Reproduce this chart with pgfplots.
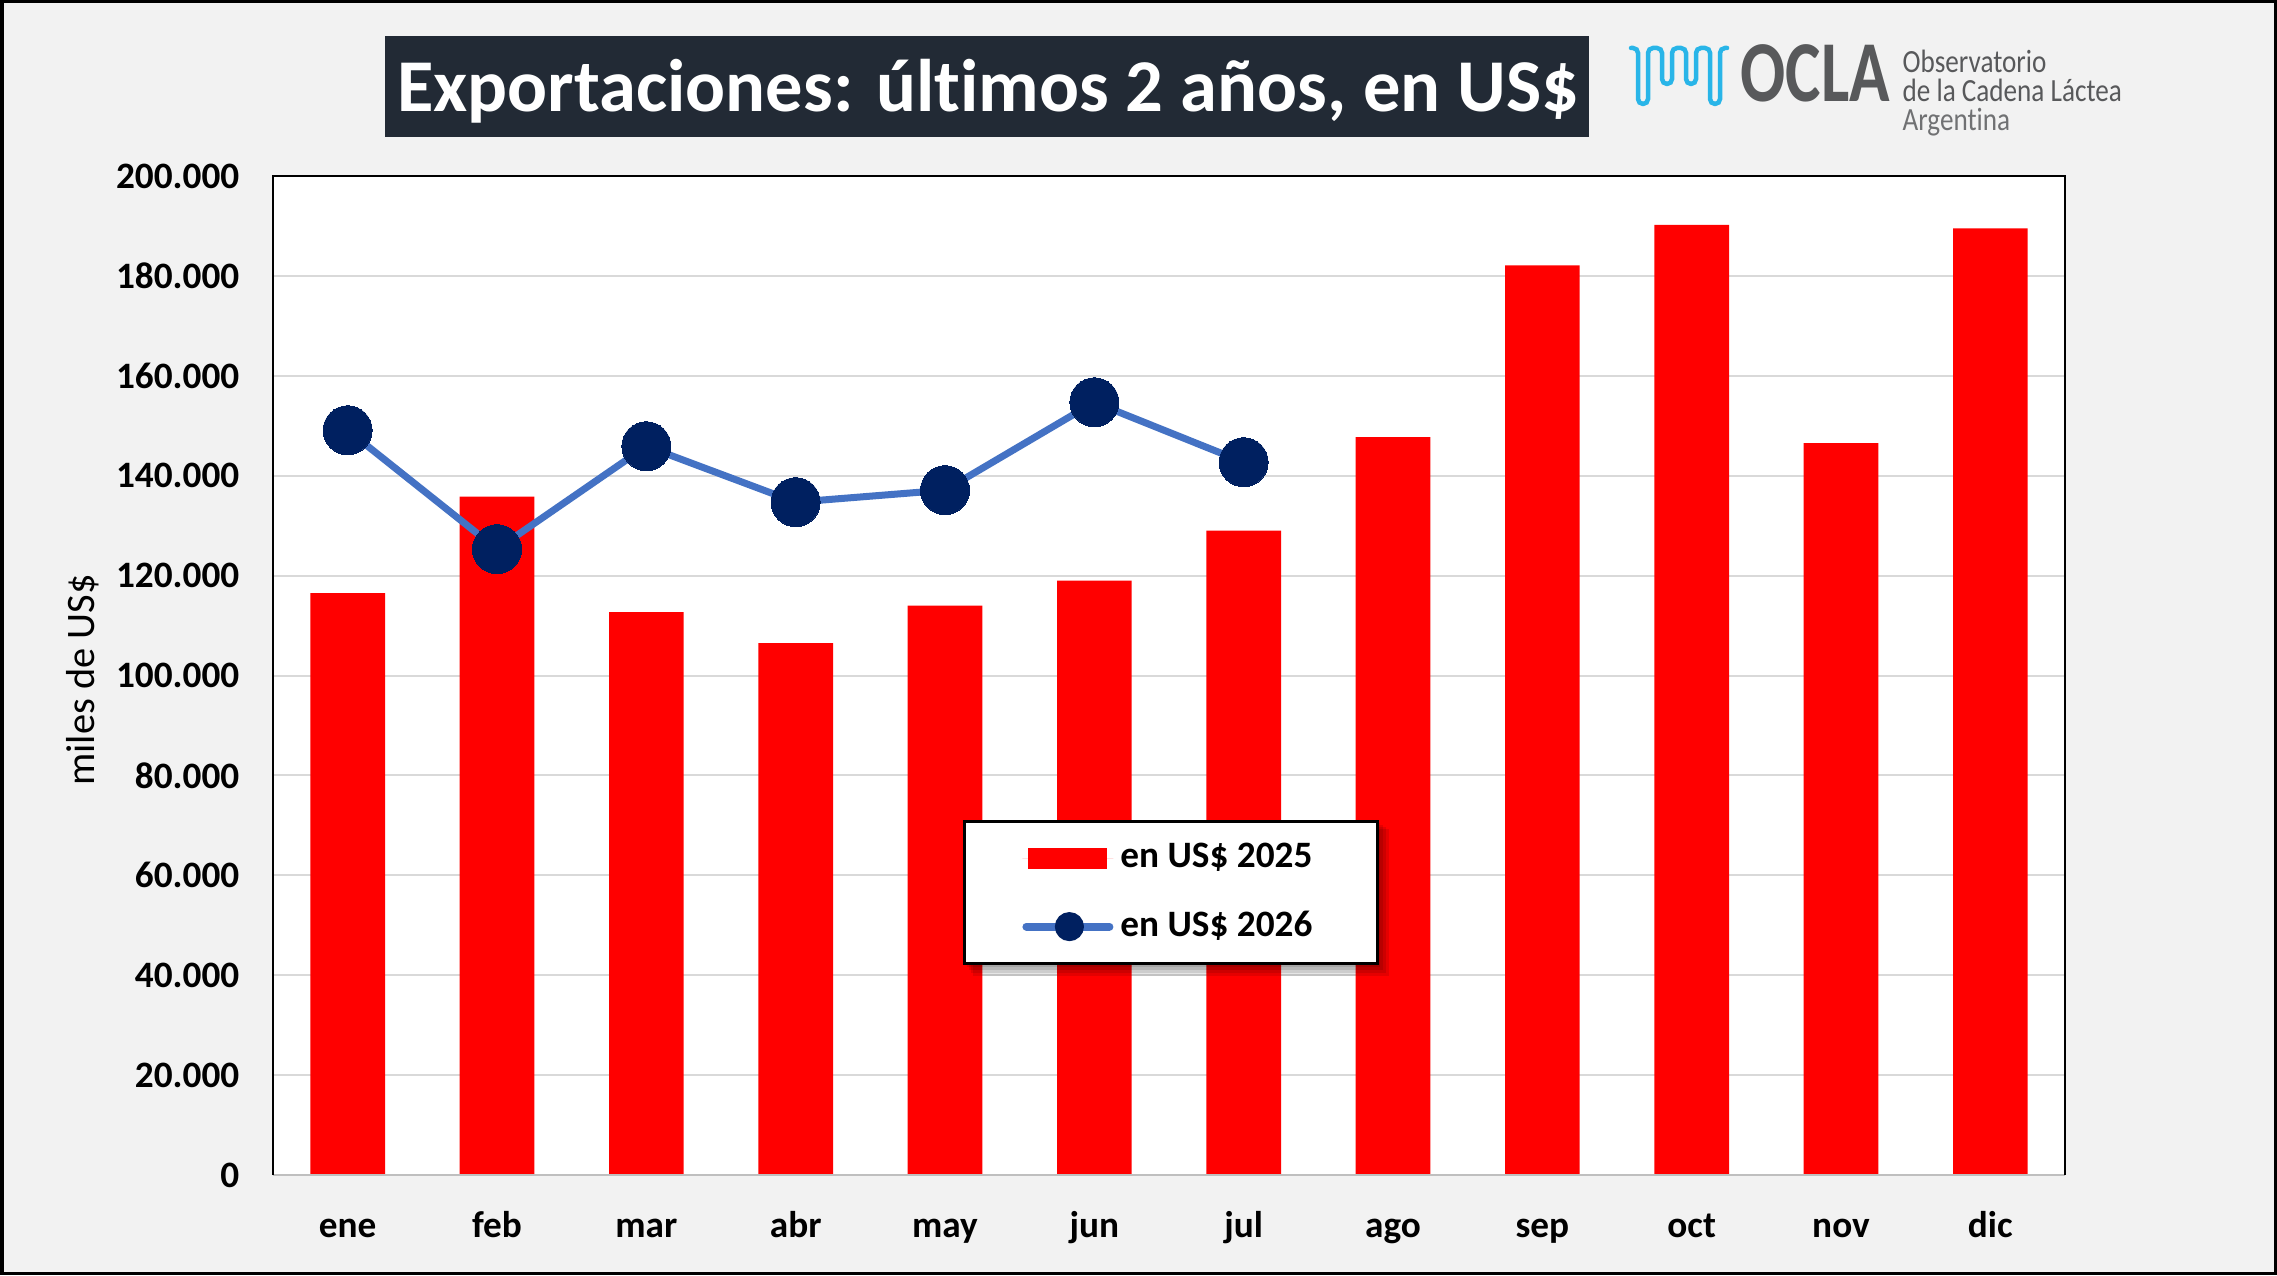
\documentclass[border=0pt]{standalone}
\usepackage{fontspec}
\setmainfont{Carlito}[Ligatures=NoCommon]
\usepackage{pgfplots}
\pgfplotsset{compat=1.18}
\definecolor{bgc}{HTML}{F2F2F2}
\definecolor{titlebg}{HTML}{222A35}
\definecolor{linec}{HTML}{4472C4}
\definecolor{markc}{HTML}{002060}
\definecolor{gridc}{HTML}{D9D9D9}
\definecolor{axisgray}{HTML}{BFBFBF}
\definecolor{logogray}{HTML}{58595B}
\definecolor{logogray2}{HTML}{707173}
\definecolor{logocyan}{HTML}{29B5E8}
\begin{document}
\begin{tikzpicture}
\fill[bgc] (0,0) rectangle (227.7mm,127.5mm);
% title
\fill[titlebg] (38.5mm,113.8mm) rectangle (158.9mm,123.9mm);
\node[anchor=base, inner sep=0pt, text=white, font=\bfseries\fontsize{21.2}{24}\selectfont] at (98.8mm,116.3mm) {Exportaciones: últimos 2 años, en US\$};
% logo
\begin{scope}[shift={(0,127.5mm)}, x=0.1mm, y=-0.1mm]
\draw[logocyan, line width=0.45mm, rounded corners=0.5mm, line cap=round]
 (1631,48)--(1638,48)--(1638,104)--(1648,104)--(1648,48)--(1662,48)--(1662,84)--(1672,84)--(1672,48)--(1686,48)--(1686,84)--(1696,84)--(1696,48)--(1710,48)--(1710,104)--(1720,104)--(1720,48)--(1727,48);
\node[anchor=base west, inner sep=0pt, text=logogray, font=\bfseries\fontsize{24.7}{26}\selectfont, xscale=0.77] at (1740,102) {OCLA};
\node[anchor=base west, inner sep=0pt, text=logogray, font=\fontsize{9.2}{11}\selectfont, xscale=0.84] at (1902,73) {Observatorio};
\node[anchor=base west, inner sep=0pt, text=logogray, font=\fontsize{9.2}{11}\selectfont, xscale=0.84] at (1902,102) {de la Cadena Láctea};
\node[anchor=base west, inner sep=0pt, text=logogray2, font=\fontsize{9.2}{11}\selectfont, xscale=0.84] at (1902,131) {Argentina};
\end{scope}
% y label
\node[rotate=90, font=\fontsize{11.5}{13}\selectfont] at (8.3mm,59.5mm) {miles de US\$};
\begin{axis}[
  at={(27.3mm,10mm)}, anchor=south west,
  scale only axis, width=179.2mm, height=99.9mm,
  xmin=-0.5, xmax=11.5, ymin=0, ymax=200000,
  xtick={0,1,2,3,4,5,6,7,8,9,10,11},
  xticklabels={ene,feb,mar,abr,may,jun,jul,ago,sep,oct,nov,dic},
  ytick={0,20000,40000,60000,80000,100000,120000,140000,160000,180000,200000},
  scaled y ticks=false,
  /pgf/number format/fixed,
  /pgf/number format/1000 sep={.},
  /pgf/number format/assume math mode=true,
  axis background/.style={fill=white},
  axis line style={draw=none},
  tick style={draw=none},
  major tick length=0pt,
  ymajorgrids,
  grid style={gridc, line width=0.2mm},
  clip=false,
  yticklabel style={font=\bfseries\fontsize{10.6}{12}\selectfont, inner sep=0pt, anchor=east, xshift=-3.3mm},
  xticklabel style={font=\bfseries\fontsize{10.6}{12}\selectfont, inner sep=0pt, anchor=base, yshift=-6.2mm},
  legend style={at={(0.385,0.3554)}, anchor=north west, draw=black, line width=0.3mm, fill=white,
    font=\bfseries\fontsize{10.6}{12}\selectfont,
    inner xsep=5.8mm, inner ysep=1.5mm, row sep=2.4mm,
    /tikz/every even column/.append style={column sep=1mm}},
  legend cell align=left,
]
\addplot[ybar, bar width=0.5, bar shift=0pt, fill=red, draw=none,
  legend image code/.code={\fill[red] (0.6mm,-1.05mm) rectangle (8.5mm,1.05mm); \path (0mm,0mm) -- (9.1mm,0mm);}]
coordinates {(0,116500) (1,135800) (2,112700) (3,106500) (4,114000) (5,119000) (6,129000) (7,147700) (8,182100) (9,190200) (10,146500) (11,189500)};
\addlegendentry{en US\$ 2025}
\addplot[linec, line width=0.7mm, mark=*, mark size=2.45mm, mark options={fill=markc, draw=markc, line width=0pt, solid},
  legend image code/.code={\draw[linec, line width=0.8mm, line cap=round] (0.4mm,0mm) -- (8.7mm,0mm); \fill[markc] (4.7mm,0mm) circle (1.1mm);}]
coordinates {(0,149100) (1,125300) (2,145900) (3,134700) (4,137100) (5,154700) (6,142700)};
\addlegendentry{en US\$ 2026}
% legend shadow
\fill[black, opacity=0.1] (axis cs:4.147,70470) rectangle (axis cs:6.913,41640);
\fill[black, opacity=0.1] (axis cs:4.161,70070) rectangle (axis cs:6.933,41040);
\fill[black, opacity=0.1] (axis cs:4.174,69670) rectangle (axis cs:6.953,40440);
\fill[black, opacity=0.1] (axis cs:4.188,69270) rectangle (axis cs:6.973,39840);
\draw[axisgray, line width=0.25mm] (rel axis cs:0,0) -- (rel axis cs:1,0);
\draw[black, line width=0.25mm] (rel axis cs:0,0) -- (rel axis cs:0,1) -- (rel axis cs:1,1) -- (rel axis cs:1,0);
\end{axis}
\draw[black, line width=0.35mm] (0.175mm,0.175mm) rectangle (227.525mm,127.325mm);
\end{tikzpicture}
\end{document}
